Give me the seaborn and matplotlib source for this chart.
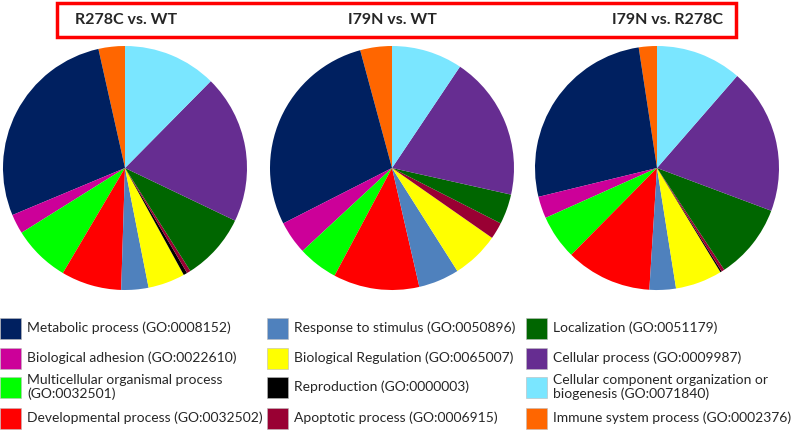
import matplotlib.pyplot as plt
import seaborn as sns
from matplotlib.patches import Rectangle

# Categories (legend order) and their colours
categories = [
    "Metabolic process (GO:0008152)",
    "Biological adhesion (GO:0022610)",
    "Multicellular organismal process\n(GO:0032501)",
    "Developmental process (GO:0032502)",
    "Response to stimulus (GO:0050896)",
    "Biological Regulation (GO:0065007)",
    "Reproduction (GO:0000003)",
    "Apoptotic process (GO:0006915)",
    "Localization (GO:0051179)",
    "Cellular process (GO:0009987)",
    "Cellular component organization or\nbiogenesis (GO:0071840)",
    "Immune system process (GO:0002376)",
]
colors = ["#002060", "#CC0099", "#00FF00", "#FF0000", "#4F81BD", "#FFFF00",
          "#000000", "#990033", "#006600", "#662D91", "#7AE6FF", "#FF6600"]

# Percentages per comparison, same order as categories
r278c_vs_wt = [27.8, 2.6, 7.6, 8.0, 3.6, 4.9, 0.5, 0.5, 8.9, 19.7, 12.4, 3.5]
i79n_vs_wt = [28.3, 4.4, 5.3, 11.4, 5.4, 6.3, 0.0, 2.2, 4.0, 19.1, 9.4, 4.2]
i79n_vs_r278c = [26.4, 2.9, 5.9, 11.4, 3.5, 6.2, 0.2, 0.4, 10.0, 19.3, 11.4, 2.4]

titles = ["R278C vs. WT", "I79N vs. WT", "I79N vs. R278C"]

sns.set_theme(style="white")
plt.rcParams['font.family'] = ['Lato', 'DejaVu Sans']

W, H = 792, 430
fig = plt.figure(figsize=(W / 100, H / 100), dpi=100)

# Overlay axes in pixel coordinates for title box and legend
ov = fig.add_axes([0, 0, 1, 1])
ov.set_xlim(0, W)
ov.set_ylim(H, 0)
ov.axis("off")
ov.patch.set_alpha(0)

# Red title box
ov.add_patch(Rectangle((57, 3), 679, 34, fill=False, edgecolor="#FF0000", linewidth=2.5))
ov.text(75, 20, titles[0], ha="left", va="center", fontsize=11.5, fontweight="bold")
ov.text(392, 20, titles[1], ha="center", va="center", fontsize=11.5, fontweight="bold")
ov.text(723, 20, titles[2], ha="right", va="center", fontsize=11.5, fontweight="bold")

# Pies (counter-clockwise from top, immune system first)
order = [11, 0, 1, 2, 3, 4, 5, 6, 7, 8, 9, 10]
centers = [125, 392, 657]
radius = 122
for cx, vals in zip(centers, [r278c_vs_wt, i79n_vs_wt, i79n_vs_r278c]):
    ax = fig.add_axes([(cx - radius) / W, (H - 168 - radius) / H, 2 * radius / W, 2 * radius / H])
    ax.pie([vals[i] for i in order], colors=[colors[i] for i in order],
           startangle=90, counterclock=True, wedgeprops=dict(linewidth=0))
    ax.set_xlim(-1, 1)
    ax.set_ylim(-1, 1)
    ax.axis("off")

# Legend: 3 columns x 4 rows
col_x = [0, 267, 526]
row_y = [328, 358, 387, 418]
sq = 21
for i, (lab, c) in enumerate(zip(categories, colors)):
    col, row = divmod(i, 4)
    x, y = col_x[col], row_y[row]
    ov.add_patch(Rectangle((x, y - sq / 2), sq, sq, facecolor=c, edgecolor="#BBBBBB", linewidth=0.4))
    ov.text(x + sq + 6, y, lab, ha="left", va="center", fontsize=10, linespacing=1.1)

fig.savefig("out.png", dpi=100)
